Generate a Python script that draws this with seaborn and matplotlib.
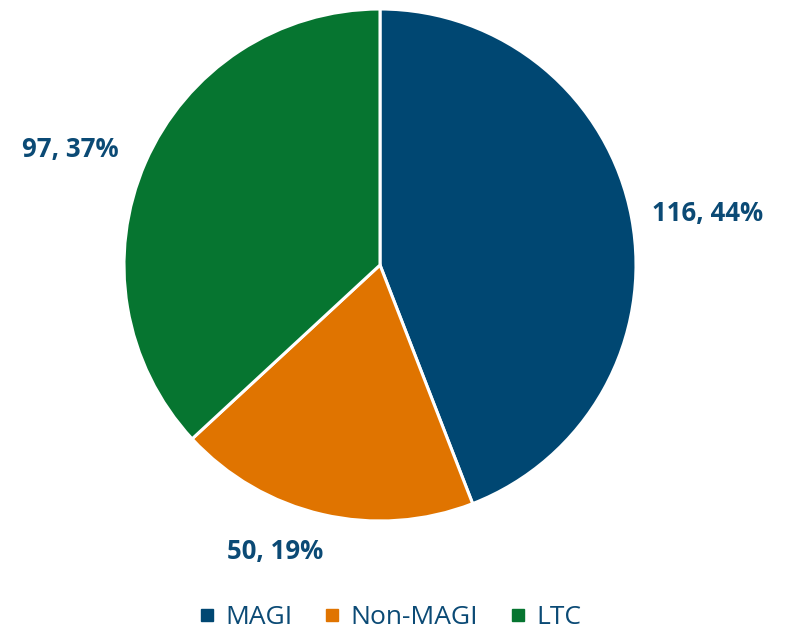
import matplotlib
matplotlib.use("Agg")
import matplotlib.pyplot as plt
import seaborn as sns
from matplotlib.lines import Line2D

sns.set_theme(style="white")
plt.rcParams["font.family"] = ["Open Sans", "DejaVu Sans"]

# data
categories = ["MAGI", "Non-MAGI", "LTC"]
counts = [116, 50, 97]
colors = ["#004772", "#E07400", "#067530"]
text_color = "#0B4A75"
# label anchor positions (pie radius units)
label_pos = [(1.28, 0.20), (-0.41, -1.12), (-1.21, 0.45)]

fig = plt.figure(figsize=(7.88, 6.35), dpi=100)
ax = fig.add_axes([124 / 788, (635 - 521) / 635, 512 / 788, 512 / 635])

ax.pie(counts, colors=colors, startangle=90, counterclock=False, radius=1,
       wedgeprops=dict(edgecolor="white", linewidth=2.2))
ax.set_xlim(-1, 1)
ax.set_ylim(-1, 1)
ax.set_aspect("equal")

total = sum(counts)
for (x, y), v in zip(label_pos, counts):
    ax.text(x, y, f"{v}, {round(v / total * 100)}%", ha="center", va="center",
            fontsize=18.5, fontweight="bold", color=text_color, clip_on=False)

handles = [Line2D([], [], marker="s", linestyle="", markersize=9, color=c) for c in colors]
fig.legend(handles, categories, loc="center", bbox_to_anchor=(0.493, 1 - 618 / 635),
           ncol=3, frameon=False, fontsize=19, handletextpad=0.3, columnspacing=1.1,
           labelcolor=text_color, handlelength=0.8)

fig.savefig("out.png", dpi=100)
